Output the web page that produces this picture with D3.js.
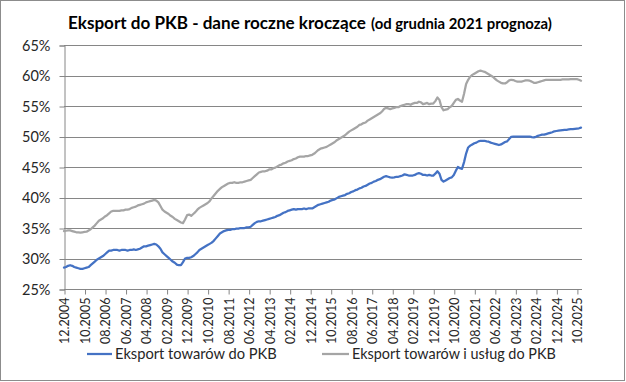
<!DOCTYPE html>
<html><head><meta charset="utf-8">
<script src="https://cdn.jsdelivr.net/npm/d3@7"></script>
<style>body{margin:0;background:#fff}svg{display:block}</style>
</head><body>
<svg id="c" width="626" height="382"></svg>
<script>
const titleMain = "Eksport do PKB - dane roczne kroczące";
const titleSub = "(od grudnia 2021 prognoza)";
const seriesNames = ["Eksport towarów do PKB", "Eksport towarów i usług do PKB"];
const startYear = 2004, startMonth = 12;
const yTicks = [25,30,35,40,45,50,55,60,65];
const xTickEvery = 10;
// Monthly values, 12.2004 ... 12.2025
const goods = [
 28.5,
 28.6,28.8,28.9,28.8,28.6,28.5,28.4,28.3,28.3,28.4,28.5,28.6,
 28.9,29.2,29.5,29.8,30.0,30.2,30.4,30.7,31.0,31.3,31.3,31.4,
 31.4,31.4,31.3,31.4,31.4,31.4,31.3,31.4,31.4,31.5,31.4,31.5,
 31.6,31.8,32.0,32.0,32.1,32.2,32.3,32.4,32.3,32.0,31.6,31.0,
 30.7,30.4,30.1,29.8,29.5,29.3,29.0,28.9,28.9,29.4,30.0,30.1,
 30.1,30.2,30.4,30.7,31.0,31.4,31.6,31.8,32.0,32.2,32.4,32.6,
 32.9,33.3,33.7,34.1,34.3,34.5,34.6,34.7,34.7,34.8,34.8,34.9,
 34.9,35.0,35.0,35.0,35.1,35.1,35.2,35.5,35.8,36.0,36.1,36.1,
 36.2,36.3,36.4,36.5,36.6,36.7,36.8,37.0,37.1,37.3,37.5,37.6,
 37.8,37.9,38.0,38.1,38.0,38.1,38.1,38.1,38.2,38.1,38.2,38.2,
 38.2,38.4,38.6,38.8,38.9,39.0,39.1,39.2,39.3,39.5,39.6,39.7,
 39.9,40.1,40.2,40.3,40.4,40.6,40.7,40.9,41.0,41.2,41.3,41.5,
 41.6,41.8,41.9,42.1,42.3,42.4,42.6,42.7,42.9,43.0,43.2,43.4,
 43.5,43.4,43.3,43.25,43.3,43.4,43.4,43.5,43.6,43.8,43.7,43.6,
 43.6,43.6,43.7,43.9,44.0,43.9,43.7,43.7,43.6,43.7,43.6,43.6,
 43.9,44.3,43.9,42.9,42.6,42.8,43.0,43.2,43.3,43.7,44.4,45.0,
 44.8,44.7,45.8,47.2,48.2,48.5,48.7,48.9,49.0,49.2,49.3,49.3,
 49.3,49.2,49.15,49.0,48.9,48.8,48.7,48.6,48.7,48.9,49.1,49.2,
 49.6,49.95,50.0,50.0,50.0,50.0,50.0,50.0,50.0,50.0,50.0,49.9,
 49.85,49.95,50.1,50.2,50.3,50.3,50.4,50.5,50.6,50.7,50.85,50.9,
 50.95,51.0,51.05,51.1,51.1,51.15,51.2,51.2,51.25,51.3,51.35,51.45
];
const goodsServices = [
 34.5,
 34.55,34.6,34.6,34.5,34.4,34.3,34.3,34.25,34.3,34.35,34.4,34.6,
 34.8,35.1,35.4,35.8,36.2,36.4,36.6,36.9,37.1,37.4,37.7,37.8,
 37.8,37.8,37.8,37.9,37.9,38.0,38.0,38.1,38.3,38.4,38.5,38.7,
 38.8,38.9,39.0,39.2,39.3,39.4,39.5,39.6,39.5,39.2,38.6,38.0,
 37.7,37.5,37.3,37.0,36.8,36.5,36.3,36.1,35.9,35.8,36.4,37.1,
 37.2,37.0,37.3,37.6,38.0,38.3,38.5,38.7,38.9,39.1,39.4,39.9,
 40.3,40.7,41.1,41.4,41.7,41.9,42.1,42.3,42.4,42.4,42.5,42.4,
 42.4,42.5,42.5,42.6,42.7,42.8,42.9,43.2,43.5,43.8,44.1,44.2,
 44.3,44.3,44.4,44.6,44.6,44.8,44.9,45.1,45.3,45.4,45.6,45.7,
 45.9,46.0,46.1,46.3,46.4,46.6,46.7,46.7,46.7,46.8,46.8,46.9,
 47.0,47.2,47.5,47.8,48.0,48.1,48.2,48.3,48.5,48.7,48.9,49.1,
 49.4,49.6,49.8,50.0,50.2,50.5,50.8,51.0,51.2,51.4,51.6,51.9,
 52.0,52.2,52.3,52.6,52.8,53.0,53.2,53.4,53.6,53.8,54.1,54.5,
 54.7,54.6,54.5,54.6,54.7,54.8,54.8,55.0,55.1,55.2,55.3,55.3,
 55.2,55.4,55.5,55.5,55.7,55.6,55.3,55.4,55.5,55.3,55.4,55.4,
 55.8,56.4,56.0,54.8,54.3,54.4,54.5,54.8,55.0,55.5,56.0,56.15,
 55.9,55.7,57.0,58.6,59.3,59.8,60.1,60.3,60.5,60.7,60.8,60.7,
 60.6,60.4,60.2,60.0,59.8,59.5,59.2,59.0,58.8,58.7,58.7,58.9,
 59.2,59.3,59.25,59.1,59.0,59.0,59.0,59.1,59.2,59.2,59.15,59.0,
 58.8,58.8,58.9,59.0,59.1,59.2,59.3,59.3,59.3,59.3,59.3,59.3,
 59.3,59.3,59.35,59.35,59.35,59.35,59.4,59.4,59.4,59.4,59.3,59.15
];
const colors = ["#4472C4", "#A5A5A5"];

const n = goods.length;
const labels = d3.range(n).map(i => {
  const m0 = startMonth - 1 + i;
  const y = startYear + Math.floor(m0 / 12), m = (m0 % 12) + 1;
  return String(m).padStart(2, "0") + "." + y;
});

const svg = d3.select("#c");
const F = "Lato, 'Open Sans', sans-serif";
svg.append("rect").attr("x",0.5).attr("y",0.5).attr("width",624).attr("height",380)
  .attr("fill","#fff").attr("stroke","#8c8c8c");

const x = d3.scaleLinear().domain([0, n - 1]).range([64, 581]);
const y = d3.scaleLinear().domain([25, 65]).range([289, 45]);

// gridlines
svg.append("g").selectAll("line").data(yTicks).join("line")
  .attr("x1", 64).attr("x2", 582)
  .attr("y1", d => Math.round(y(d)) + 0.5).attr("y2", d => Math.round(y(d)) + 0.5)
  .attr("stroke", "#868686").attr("stroke-width", 1);

// y axis
const ya = svg.append("g").attr("transform", "translate(64.5,0.5)")
  .call(d3.axisLeft(y).tickValues(yTicks).tickFormat(d => d + "%").tickSize(5).tickPadding(9));
ya.select(".domain").attr("stroke", "#868686");
ya.selectAll(".tick line").attr("stroke", "#868686");
ya.selectAll("text").attr("font-family", F).attr("font-size", 14.5).attr("fill", "#262626");

// x axis
const xt = d3.range(0, n, xTickEvery);
const xa = svg.append("g").attr("transform", "translate(0.5," + (Math.round(y(25)) + 0.5) + ")")
  .call(d3.axisBottom(x).tickValues(xt).tickFormat(i => labels[i]).tickSize(5).tickPadding(3));
xa.select(".domain").remove();
xa.selectAll(".tick line").attr("stroke", "#868686");
xa.selectAll("text").attr("font-family", F).attr("font-size", 12.5).attr("fill", "#262626")
  .attr("transform", "rotate(-90)").attr("text-anchor", "end")
  .attr("x", -8).attr("y", 0).attr("dy", "0.35em");

// lines
const line = d3.line().x((d, i) => x(i)).y(d => y(d));
[goods, goodsServices].forEach((s, k) => {
  svg.append("path").datum(s).attr("d", line).attr("fill", "none")
    .attr("stroke", colors[k]).attr("stroke-width", 2.25).attr("stroke-linejoin", "round").attr("stroke-linecap", "round");
});

// title
function fitText(sel, w) {
  const len = sel.node().getComputedTextLength();
  const fs = parseFloat(sel.attr("font-size"));
  sel.attr("font-size", fs * w / len);
}
const t1 = svg.append("text").attr("x", 68).attr("y", 29).attr("font-family", F)
  .attr("font-weight", "bold").attr("font-size", 17).attr("fill", "#000").text(titleMain);
fitText(t1, 298);
const t2 = svg.append("text").attr("x", 371).attr("y", 29).attr("font-family", F)
  .attr("font-weight", "bold").attr("font-size", 13).attr("fill", "#000").text(titleSub);
fitText(t2, 181);

// legend
const leg = [{x1: 87, x2: 112, tx: 115, w: 162}, {x1: 322, x2: 349, tx: 352, w: 204}];
leg.forEach((L, k) => {
  svg.append("line").attr("x1", L.x1).attr("x2", L.x2).attr("y1", 354).attr("y2", 354)
    .attr("stroke", colors[k]).attr("stroke-width", 2.25);
  const t = svg.append("text").attr("x", L.tx).attr("y", 354).attr("dy", "0.35em")
    .attr("font-family", F).attr("font-size", 14).attr("fill", "#262626").text(seriesNames[k]);
  fitText(t, L.w);
});
</script>
</body></html>
